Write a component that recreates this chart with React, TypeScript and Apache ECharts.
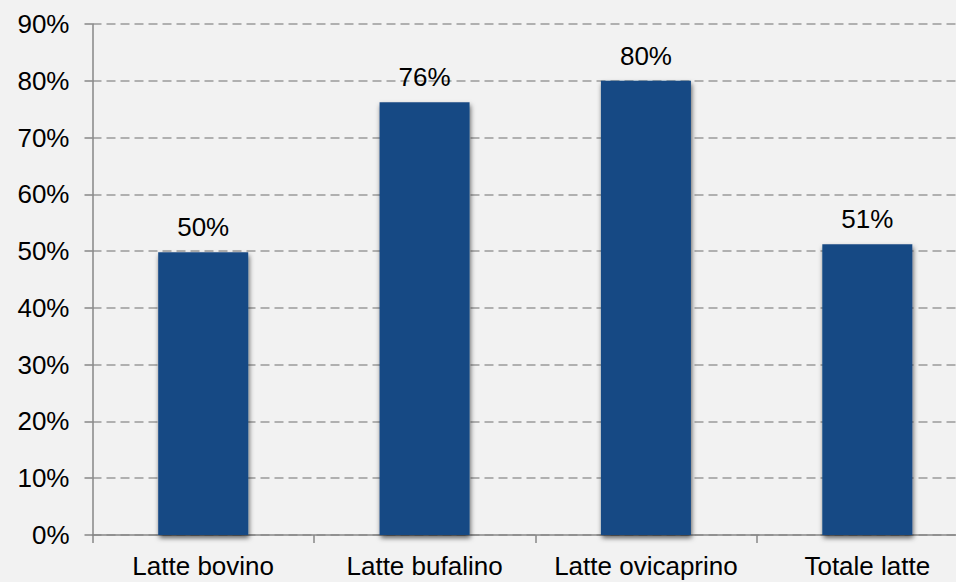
import React, { useEffect, useRef } from "react";
import * as echarts from "echarts";

const categories = ["Latte bovino", "Latte bufalino", "Latte ovicaprino", "Totale latte"];
const values = [49.8, 76.2, 80.0, 51.2];
const labels = ["50%", "76%", "80%", "51%"];
const yTicks = { min: 0, max: 90, interval: 10 };

export default function App() {
  const ref = useRef<HTMLDivElement>(null);
  useEffect(() => {
    document.body.style.margin = "0";
    const chart = echarts.init(ref.current!, null, { renderer: "svg" });
    const font = "Liberation Sans, Arial, sans-serif";
    chart.setOption({
      animation: false,
      backgroundColor: "#F2F2F2",
      grid: { left: 92.5, top: 24, bottom: 47, right: 0, containLabel: false },
      xAxis: {
        type: "category",
        data: categories,
        boundaryGap: true,
        axisLine: { show: true, lineStyle: { color: "#878787", width: 1.5 } },
        axisTick: { show: true, alignWithLabel: false, length: 8, lineStyle: { color: "#878787", width: 1.5 } },
        axisLabel: { color: "#000", fontSize: 26, fontFamily: font, margin: 18, interval: 0 },
        splitLine: { show: false },
      },
      yAxis: {
        type: "value",
        min: yTicks.min,
        max: yTicks.max,
        interval: yTicks.interval,
        axisLine: { show: true, lineStyle: { color: "#878787", width: 1.5 } },
        axisTick: { show: true, inside: false, length: 8, lineStyle: { color: "#878787", width: 1.5 } },
        axisLabel: { color: "#000", fontSize: 26, fontFamily: font, margin: 23, formatter: "{value}%" },
        splitLine: { show: true, lineStyle: { color: "#9a9a9a", width: 1.5, type: [9, 5] } },
      },
      series: [
        {
          type: "bar",
          data: values,
          barWidth: 90,
          itemStyle: {
            color: "#174A84",
            shadowColor: "rgba(0,0,0,0.6)",
            shadowBlur: 5,
            shadowOffsetX: 1,
            shadowOffsetY: 3,
          },
          label: {
            show: true,
            position: "top",
            distance: 12,
            color: "#000",
            fontSize: 26,
            fontFamily: font,
            formatter: (p: any) => labels[p.dataIndex],
          },
        },
      ],
    });
    return () => chart.dispose();
  }, []);
  return (
    <div style={{ width: 956, height: 582, position: "fixed", left: 0, top: 0, overflow: "hidden", background: "#F2F2F2" }}>
      <div ref={ref} style={{ width: 978, height: 582 }} />
    </div>
  );
}
